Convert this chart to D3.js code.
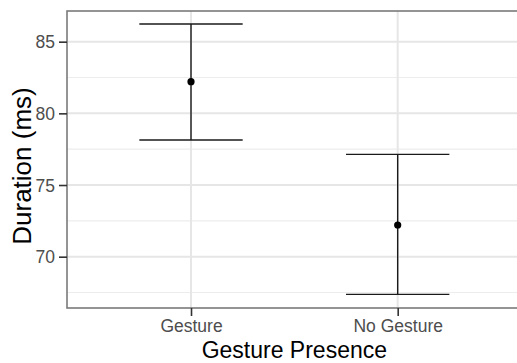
<!DOCTYPE html>
<html>
<head>
<meta charset="utf-8">
<script src="https://cdn.jsdelivr.net/npm/d3@7"></script>
<style>
  body { margin: 0; background: #fff; }
  text { font-family: "Liberation Sans", Arial, sans-serif; }
</style>
</head>
<body>
<svg id="chart" width="517" height="363"></svg>
<script>
// values
var categories = ['Gesture', 'No Gesture'];
var means = [82.21, 72.21];
var lower = [78.14, 67.37];
var upper = [86.23, 77.14];
var yTicks = [70, 75, 80, 85];
var yMinor = [67.5, 72.5, 77.5, 82.5];

var svg = d3.select('#chart');

var panel = { left: 67, top: 11, right: 521.7, bottom: 308 };

var xScale = d3.scalePoint()
    .domain(categories)
    .range([panel.left, panel.right])
    .padding(0.6);

var yScale = d3.scaleLinear()
    .domain([66.42, 87.14])
    .range([panel.bottom, panel.top]);

var data = categories.map((c, i) => ({ cat: c, mean: means[i], lo: lower[i], hi: upper[i] }));

// gridlines
var grid = svg.append('g');
grid.selectAll('.minor')
    .data(yMinor).enter()
    .append('line')
    .attr('x1', panel.left).attr('x2', panel.right)
    .attr('y1', d => yScale(d)).attr('y2', d => yScale(d))
    .attr('stroke', '#ededed').attr('stroke-width', 1.2);
grid.selectAll('.major')
    .data(yTicks).enter()
    .append('line')
    .attr('x1', panel.left).attr('x2', panel.right)
    .attr('y1', d => yScale(d)).attr('y2', d => yScale(d))
    .attr('stroke', '#e6e6e6').attr('stroke-width', 2);
grid.selectAll('.vmajor')
    .data(categories).enter()
    .append('line')
    .attr('x1', d => xScale(d)).attr('x2', d => xScale(d))
    .attr('y1', panel.top).attr('y2', panel.bottom)
    .attr('stroke', '#e6e6e6').attr('stroke-width', 2);

// error bars
var capW = xScale.step() * 0.5;
var bars = svg.append('g')
    .selectAll('g')
    .data(data).enter()
    .append('g');
bars.append('line')
    .attr('x1', d => xScale(d.cat)).attr('x2', d => xScale(d.cat))
    .attr('y1', d => yScale(d.hi)).attr('y2', d => yScale(d.lo))
    .attr('stroke', '#1a1a1a').attr('stroke-width', 1.4);
bars.append('line')
    .attr('x1', d => xScale(d.cat) - capW / 2).attr('x2', d => xScale(d.cat) + capW / 2)
    .attr('y1', d => yScale(d.hi)).attr('y2', d => yScale(d.hi))
    .attr('stroke', '#1a1a1a').attr('stroke-width', 1.4);
bars.append('line')
    .attr('x1', d => xScale(d.cat) - capW / 2).attr('x2', d => xScale(d.cat) + capW / 2)
    .attr('y1', d => yScale(d.lo)).attr('y2', d => yScale(d.lo))
    .attr('stroke', '#1a1a1a').attr('stroke-width', 1.4);
bars.append('circle')
    .attr('cx', d => xScale(d.cat))
    .attr('cy', d => yScale(d.mean))
    .attr('r', 3.6)
    .attr('fill', '#000');

// panel border
svg.append('rect')
    .attr('x', panel.left).attr('y', panel.top)
    .attr('width', panel.right - panel.left)
    .attr('height', panel.bottom - panel.top)
    .attr('fill', 'none')
    .attr('stroke', '#7a7a7a').attr('stroke-width', 1.6);

// axes
var yAxis = svg.append('g')
    .attr('transform', `translate(${panel.left},0)`)
    .call(d3.axisLeft(yScale).tickValues(yTicks).tickSize(8).tickPadding(4));
var xAxis = svg.append('g')
    .attr('transform', `translate(0,${panel.bottom})`)
    .call(d3.axisBottom(xScale).tickSize(8).tickPadding(4));
[xAxis, yAxis].forEach(a => {
    a.select('.domain').remove();
    a.selectAll('.tick line').attr('stroke', '#333').attr('stroke-width', 1.6);
    a.selectAll('.tick text')
        .attr('fill', '#4d4d4d')
        .style('font-family', '"Liberation Sans", Arial, sans-serif')
        .style('font-size', '17.5px');
});
yAxis.selectAll('.tick text').attr('dy', '0.36em');

// titles
svg.append('text')
    .attr('x', (panel.left + panel.right) / 2)
    .attr('y', 358)
    .attr('text-anchor', 'middle')
    .style('font-size', '23px')
    .attr('fill', '#000')
    .text('Gesture Presence');
svg.append('text')
    .attr('transform', 'translate(30.5,166) rotate(-90)')
    .attr('text-anchor', 'middle')
    .style('font-size', '26px')
    .attr('fill', '#000')
    .text('Duration (ms)');
</script>
</body>
</html>
